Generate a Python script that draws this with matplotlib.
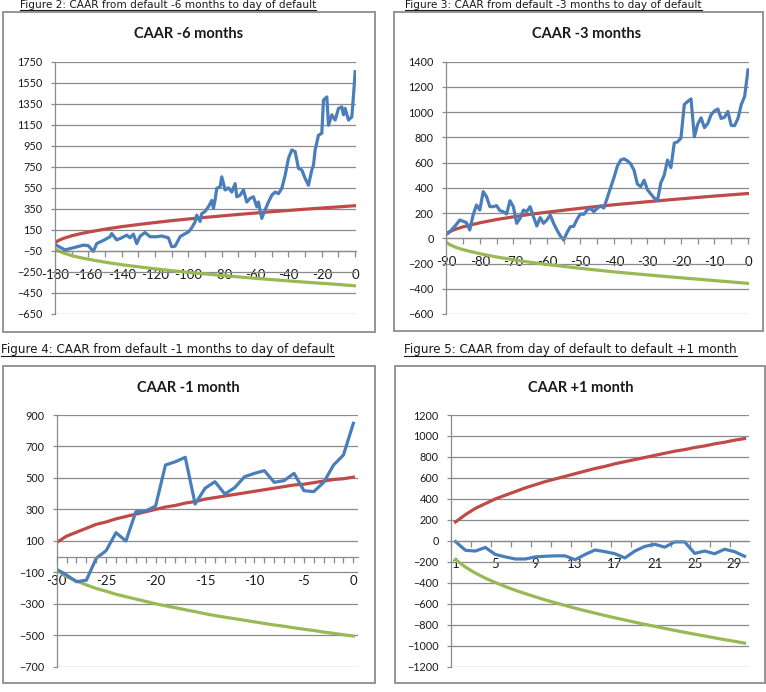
import numpy as np
import matplotlib.pyplot as plt
from matplotlib.patches import Rectangle
from matplotlib.lines import Line2D
from matplotlib.ticker import MultipleLocator, FixedLocator

plt.rcParams['font.family'] = ['Lato', 'DejaVu Sans']

W, H = 766, 692
BLUE = '#4a7ebb'
RED = '#be4b48'
GREEN = '#98b954'
GRID = '#8a8a8a'

# CAAR -6 months (days before default)
days_6m = [-180, -177, -174, -169, -163, -160, -157, -155, -151, -147, -146, -143, -140, -137, -135,
           -133, -131, -129, -126, -123, -119, -116, -112, -110, -108, -105, -103, -100, -98, -96,
           -95, -93, -92, -90, -88, -86, -85, -84, -83, -81, -80, -78, -76, -74, -72,
           -71, -69, -67, -65, -63, -61, -59, -58, -56, -54, -52, -50, -48, -46, -44,
           -42, -40, -38, -36, -34, -32, -30, -28, -26, -25, -24, -22, -20, -19, -17,
           -16, -14, -12, -10, -8, -7, -6, -4, -2, -1, 0]
caar_6m = [12, -15, -40, -20, 5, 0, -55, 20, 50, 85, 115, 55, 75, 100, 75,
           110, 20, 90, 125, 85, 85, 92, 75, -10, -5, 85, 105, 130, 170, 225,
           290, 230, 305, 325, 370, 430, 355, 435, 545, 560, 655, 530, 550, 510, 590,
           465, 480, 530, 415, 450, 465, 370, 415, 260, 340, 415, 480, 510, 495, 545,
           670, 830, 910, 895, 735, 720, 640, 575, 720, 765, 910, 1050, 1070, 1385, 1415,
           1145, 1245, 1195, 1305, 1320, 1245, 1305, 1195, 1225, 1430, 1655]
band_days_6m = [-180, -178, -175, -170, -165, -160, -150, -140, -130, -120, -110,
                -100, -90, -80, -70, -60, -50, -40, -30, -20, -10, 0]
upper_6m = [28, 49, 69, 94, 113, 129, 157, 181, 201, 220, 238,
            254, 269, 283, 297, 310, 323, 335, 347, 358, 369, 380]
lower_6m = [-28, -49, -69, -94, -113, -129, -157, -181, -201, -220, -238,
            -254, -269, -283, -297, -310, -323, -335, -347, -358, -369, -382]

# CAAR -3 months
days_3m = list(range(-90, 1))
caar_3m = [30, 50, 80, 110, 145, 135, 124, 66, 185, 264,
           224, 370, 330, 251, 251, 259, 219, 211, 193, 298,
           251, 119, 158, 224, 211, 251, 171, 98, 164, 119,
           145, 185, 119, 66, 20, -13, 45, 92, 95, 150,
           193, 190, 224, 238, 211, 238, 256, 240, 320, 400,
           480, 570, 620, 630, 615, 590, 540, 430, 410, 460,
           385, 352, 320, 300, 440, 500, 620, 560, 755, 765,
           795, 1060, 1085, 1105, 805, 905, 955, 877, 910, 980,
           1010, 1025, 950, 960, 1005, 895, 893, 950, 1060, 1125,
           1335]
band_days_3m = [-90, -89, -88, -87, -85, -80, -75, -70, -65, -60, -50, -40, -30, -20, -10, 0]
upper_3m = [37, 53, 64, 74, 91, 123, 149, 170, 190, 207, 238, 266, 290, 313, 335, 355]
lower_3m = [-30, -50, -62, -73, -90, -122, -148, -170, -190, -207, -238, -266, -290, -313, -335, -357]

# CAAR -1 month
days_1m = list(range(-30, 1))
caar_1m = [-81, -117, -160, -150, -11, 38, 152, 99, 285, 290,
           321, 582, 603, 631, 334, 434, 476, 398, 438, 508,
           529, 546, 472, 483, 529, 419, 413, 472, 582, 646,
           847]
upper_1m = [90, 130, 155, 180, 205, 220, 240, 255, 270, 285,
            300, 315, 325, 340, 350, 365, 375, 385, 395, 405,
            415, 425, 435, 445, 455, 460, 470, 480, 490, 495,
            505]
lower_1m = [-85, -128, -155, -180, -203, -220, -240, -255, -270, -285,
            -300, -313, -325, -338, -350, -363, -375, -385, -395, -405,
            -415, -425, -435, -443, -453, -462, -470, -480, -488, -497,
            -505]

# CAAR +1 month
days_p1m = list(range(1, 31))
caar_p1m = [-7, -90, -97, -63, -130, -153, -173, -173, -153, -147,
            -143, -143, -180, -130, -87, -103, -123, -163, -97, -53,
            -33, -60, -10, -10, -120, -97, -123, -80, -103, -147]
upper_p1m = [180, 250, 310, 355, 400, 435, 470, 505, 535, 565,
             590, 615, 640, 665, 690, 710, 735, 755, 775, 795,
             815, 835, 855, 870, 890, 905, 925, 940, 960, 975]
lower_p1m = [-178, -250, -308, -356, -398, -436, -471, -503, -534, -563,
             -590, -616, -642, -666, -689, -712, -734, -755, -776, -796,
             -815, -835, -854, -872, -890, -907, -925, -942, -958, -975]

fig = plt.figure(figsize=(W / 100, H / 100), dpi=100)


def px_box(x0, y0, x1, y1):
    return [x0 / W, 1 - y1 / H, (x1 - x0) / W, (y1 - y0) / H]


def frame(x0, y0, x1, y1):
    fig.add_artist(Rectangle((x0 / W, 1 - y1 / H), (x1 - x0) / W, (y1 - y0) / H,
                             transform=fig.transFigure, fill=False,
                             edgecolor='#8c8c8c', lw=1.3))


def panel(box, ylim, ystep, cross, xlim, title, title_xy):
    ax = fig.add_axes(px_box(*box))
    ax.set_ylim(*ylim)
    ax.set_xlim(*xlim)
    ax.set_yticks(np.arange(ylim[0], ylim[1] + 1, ystep))
    ax.grid(axis='y', color=GRID, lw=0.9)
    ax.set_axisbelow(True)
    for s in ['top', 'right']:
        ax.spines[s].set_visible(False)
    ax.spines['left'].set_color(GRID)
    ax.spines['bottom'].set_color(GRID)
    ax.spines['left'].set_linewidth(0.9)
    ax.spines['bottom'].set_linewidth(0.9)
    ax.spines['bottom'].set_position(('data', cross))
    ax.tick_params(axis='y', colors=GRID, labelcolor='#1a1a1a', labelsize=7.8,
                   length=3, width=0.9, pad=6)
    ax.tick_params(axis='x', which='both', colors=GRID, labelcolor='#1a1a1a',
                   labelsize=9.5, direction='out', length=4, width=0.9, pad=9)
    fig.text(title_xy[0] / W, 1 - title_xy[1] / H, title, ha='center', va='center',
             fontsize=10.5, fontweight='bold', color='#1a1a1a')
    return ax


def caption(text, x, y, size):
    return fig.text(x / W, 1 - y / H, text, ha='left', va='baseline', fontsize=size,
                    color='#1a1a1a', family=['DejaVu Sans'])


# panel frames
frame(3, 12, 375, 332)
frame(394, 12, 763, 331)
frame(3, 366, 375, 683)
frame(395, 366, 765, 683)

captions = [
    caption('Figure 2: CAAR from default -6 months to day of default', 20, 8.4, 7.6),
    caption('Figure 3: CAAR from default -3 months to day of default', 405, 8.4, 7.6),
    caption('Figure 4: CAAR from default -1 months to day of default', 1, 353.3, 8.6),
    caption('Figure 5: CAAR from day of default to default +1 month', 404, 353.3, 8.6),
]
underline_y = [10.0, 10.0, 355.8, 355.8]

lw = 2.3

ax1 = panel((55, 61.7, 356, 314), (-650, 1750), 200, -50, (-180, 0.5),
            'CAAR -6 months', (189, 33.5))
ax1.plot(band_days_6m, upper_6m, color=RED, lw=lw)
ax1.plot(band_days_6m, lower_6m, color=GREEN, lw=lw)
ax1.plot(days_6m, caar_6m, color=BLUE, lw=lw)
ax1.xaxis.set_major_locator(MultipleLocator(20))
ax1.xaxis.set_minor_locator(MultipleLocator(10))

ax2 = panel((446.3, 61.7, 749, 314), (-600, 1400), 200, 0, (-90, 0.3),
            'CAAR -3 months', (587, 33.5))
ax2.plot(band_days_3m, upper_3m, color=RED, lw=lw)
ax2.plot(band_days_3m, lower_3m, color=GREEN, lw=lw)
ax2.plot(days_3m, caar_3m, color=BLUE, lw=lw)
ax2.xaxis.set_major_locator(MultipleLocator(10))
ax2.xaxis.set_minor_locator(MultipleLocator(5))

ax3 = panel((56.7, 415, 358.3, 666.7), (-700, 900), 200, 0, (-30, 0.5),
            'CAAR -1 month', (188, 387.5))
ax3.plot(days_1m, upper_1m, color=RED, lw=lw)
ax3.plot(days_1m, lower_1m, color=GREEN, lw=lw)
ax3.plot(days_1m, caar_1m, color=BLUE, lw=lw)
ax3.xaxis.set_major_locator(MultipleLocator(5))
ax3.xaxis.set_minor_locator(MultipleLocator(1))

ax4 = panel((451.3, 415, 749, 666.7), (-1200, 1200), 200, 0, (0.58, 30.45),
            'CAAR +1 month', (580.5, 387.5))
ax4.plot(days_p1m, upper_p1m, color=RED, lw=lw)
ax4.plot(days_p1m, lower_p1m, color=GREEN, lw=lw)
ax4.plot(days_p1m, caar_p1m, color=BLUE, lw=lw)
ax4.xaxis.set_major_locator(FixedLocator(days_p1m[::4]))
ax4.xaxis.set_minor_locator(FixedLocator(np.arange(0.58, 30.5, 2)))
ax4.tick_params(axis='x', which='major', length=0, pad=12)

for ax in [ax1, ax2, ax3, ax4]:
    ax.set_xticklabels([f'{v:g}' for v in ax.get_xticks()])
    for lab in ax.get_xticklabels():
        lab.set_zorder(5)

# underline the figure captions
fig.canvas.draw()
for t, uy in zip(captions, underline_y):
    bb = t.get_window_extent()
    y = 1 - uy / H
    fig.add_artist(Line2D([bb.x0 / W, bb.x1 / W], [y, y], transform=fig.transFigure,
                          color='#1a1a1a', lw=0.8))

fig.savefig('out.png', dpi=100)
